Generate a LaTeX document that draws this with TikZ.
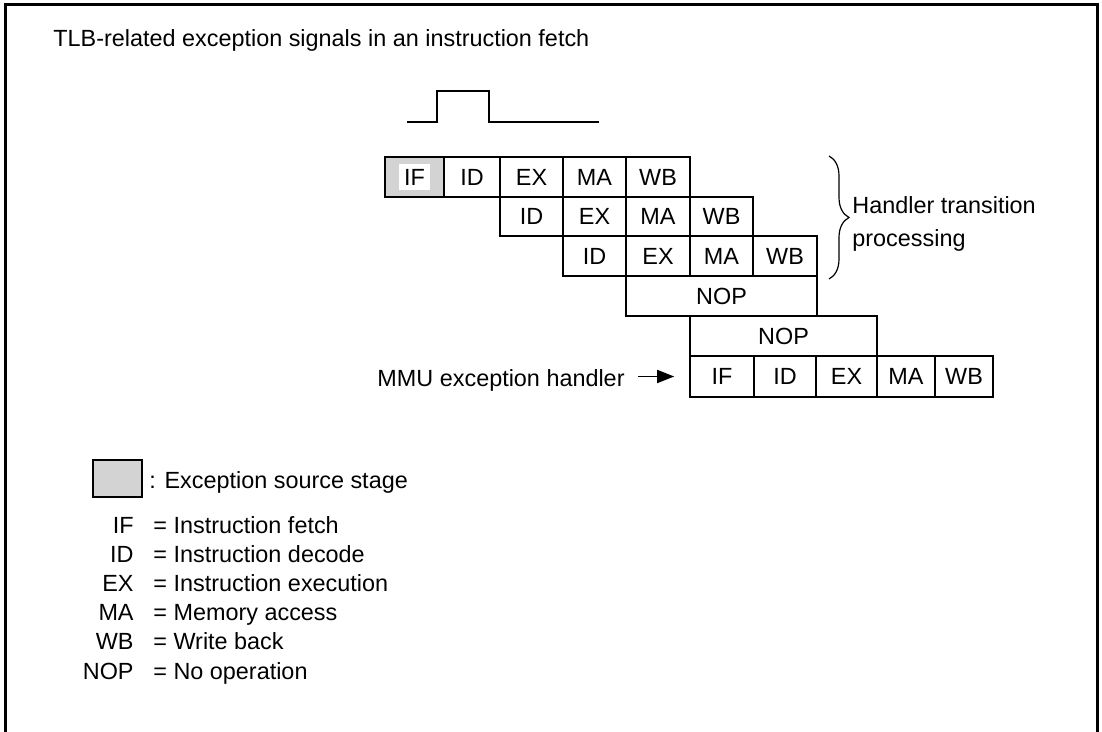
\documentclass[tikz,border=0pt]{standalone}
\usepackage{fontspec}
\setmainfont{Liberation Sans}
\usetikzlibrary{arrows.meta,fit,decorations.pathreplacing}
\definecolor{SrcGray}{RGB}{211,211,211}
\tikzset{
    stage/.style={draw=black,line width=0.8pt,inner sep=0pt},
    srcstage/.style={stage,fill=SrcGray},
    srclabel/.style={fill=white,inner sep=2.7pt},
    caption/.style={inner sep=0pt},
    signal/.style={line width=0.8pt},
    frame/.style={line width=1.5pt},
    handbrace/.style={decorate,decoration={brace,amplitude=10pt},line width=0.6pt},
    pointer/.style={line width=0.8pt,-{Triangle[length=8.5pt,width=6.5pt]}}
}

\begin{document}
\begin{tikzpicture}[x=0.5pt,y=-0.5pt,font=\fontsize{11.7}{16.5}\selectfont]
		\useasboundingbox (0,0) rectangle (1102,732);
		\draw[frame] (5,732) -- (5,5) -- (1097,5) -- (1097,732);
		\node[caption,anchor=base west] (title) at (53,47) {TLB-related exception signals in an instruction fetch};
		% exception signal
		\draw[signal] (407,122) -- (437,122) -- (437,91) -- (489,91) -- (489,122) -- (599,122);
		% faulting instruction
		\node[srcstage,fit={(385,157) (444,197)}] (srcIF) {};
		\node[srclabel] (srcIFtxt) at (srcIF.center) {IF};
		\node[stage,fit={(444,157) (500,197)},label=center:ID] (srcID) {};
		\node[stage,fit={(500,157) (563,197)},label=center:EX] (srcEX) {};
		\node[stage,fit={(563,157) (626,197)},label=center:MA] (srcMA) {};
		\node[stage,fit={(626,157) (690,197)},label=center:WB] (srcWB) {};
		% following instructions
		\node[stage,fit={(500,197) (563,236)},label=center:ID] (tAID) {};
		\node[stage,fit={(563,197) (626,236)},label=center:EX] (tAEX) {};
		\node[stage,fit={(626,197) (690,236)},label=center:MA] (tAMA) {};
		\node[stage,fit={(690,197) (753,236)},label=center:WB] (tAWB) {};
		\node[stage,fit={(563,236) (626,276)},label=center:ID] (tBID) {};
		\node[stage,fit={(626,236) (690,276)},label=center:EX] (tBEX) {};
		\node[stage,fit={(690,236) (753,276)},label=center:MA] (tBMA) {};
		\node[stage,fit={(753,236) (817,276)},label=center:WB] (tBWB) {};
		\node[stage,fit={(626,276) (817,316)},label=center:NOP] (nopA) {};
		\node[stage,fit={(690,316) (877,356)},label=center:NOP] (nopB) {};
		% handler
		\node[stage,fit={(690,356) (754,397)},label=center:IF] (hdlIF) {};
		\node[stage,fit={(754,356) (816,397)},label=center:ID] (hdlID) {};
		\node[stage,fit={(816,356) (877,397)},label=center:EX] (hdlEX) {};
		\node[stage,fit={(877,356) (935,397)},label=center:MA] (hdlMA) {};
		\node[stage,fit={(935,356) (993,397)},label=center:WB] (hdlWB) {};
		\node[caption,anchor=base east] (mmu) at (625,386.5) {MMU exception handler};
		\draw[pointer,shorten <=6.5pt,shorten >=7.5pt] (mmu.east |- hdlIF.west) -- (hdlIF.west);
		% transition brace
		\coordinate (braceTop) at (829,156);
		\coordinate (braceBot) at (829,279);
		\draw[handbrace] (braceTop) -- (braceBot);
		\node[caption,anchor=west,align=left] (handtxt) at (852,223.5) {Handler transition\\processing};
		% legend
		\node[srcstage,fit={(93,460) (142,497)}] (keybox) {};
		\node[caption,anchor=base west] (keytxt) at (149,488) {: Exception source stage};
		\node[caption,anchor=base east] (kIF) at (134,533) {IF};
		\node[caption,anchor=base west] (kIFd) at (153,533) {= Instruction fetch};
		\node[caption,anchor=base east] (kID) at (134,562.2) {ID};
		\node[caption,anchor=base west] (kIDd) at (153,562.2) {= Instruction decode};
		\node[caption,anchor=base east] (kEX) at (134,591.4) {EX};
		\node[caption,anchor=base west] (kEXd) at (153,591.4) {= Instruction execution};
		\node[caption,anchor=base east] (kMA) at (134,620.6) {MA};
		\node[caption,anchor=base west] (kMAd) at (153,620.6) {= Memory access};
		\node[caption,anchor=base east] (kWB) at (134,649.8) {WB};
		\node[caption,anchor=base west] (kWBd) at (153,649.8) {= Write back};
		\node[caption,anchor=base east] (kNOP) at (134,679) {NOP};
		\node[caption,anchor=base west] (kNOPd) at (153,679) {= No operation};
\end{tikzpicture}
\end{document}
